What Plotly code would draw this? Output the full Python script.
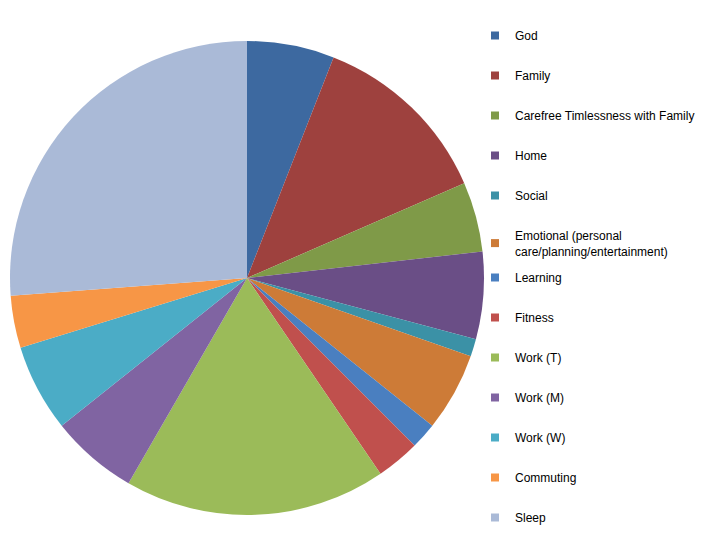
import plotly.graph_objects as go

labels = ["God", "Family", "Carefree Timlessness with Family", "Home", "Social",
          "Emotional (personal<br>care/planning/entertainment)", "Learning", "Fitness",
          "Work (T)", "Work (M)", "Work (W)", "Commuting", "Sleep"]
hours = [10, 21, 8, 10, 2, 9, 3, 5, 30, 10, 10, 6, 44]
colors = ["#3D69A0", "#9E413E", "#7F9A48", "#6A4E86", "#3B91A6", "#CD7B37", "#4A7FC0",
          "#C0504D", "#9BBB59", "#8064A2", "#4BACC6", "#F79646", "#AABAD7"]

fig = go.Figure()
fig.add_trace(go.Pie(
    labels=labels, values=hours, sort=False, direction="clockwise", rotation=0,
    marker=dict(colors=colors, line=dict(width=0)), textinfo="none",
    showlegend=False, domain=dict(x=[10/703, 484/703], y=[45/560, 519/560]),
))

split = 6
for i, (lab, col) in enumerate(zip(labels, colors)):
    fig.add_trace(go.Scatter(
        x=[None], y=[None], mode="markers", name=lab,
        marker=dict(symbol="square", size=8, color=col),
        legendgroup=lab, showlegend=True,
        legend="legend" if i < split else "legend2",
    ))

legend_common = dict(
    font=dict(family="Liberation Sans, Arial, sans-serif", size=12, color="#000000"),
    tracegroupgap=21, bgcolor="rgba(0,0,0,0)", xanchor="left", yanchor="top",
    itemclick=False, itemdoubleclick=False,
)
fig.update_layout(
    width=703, height=560,
    margin=dict(l=0, r=0, t=0, b=0),
    paper_bgcolor="white", plot_bgcolor="white",
    xaxis=dict(visible=False), yaxis=dict(visible=False),
    legend=dict(x=475/703, y=1 - 21/560, **legend_common),
    legend2=dict(x=475/703, y=1 - 263/560, **legend_common),
)
fig.write_html("out.html")
